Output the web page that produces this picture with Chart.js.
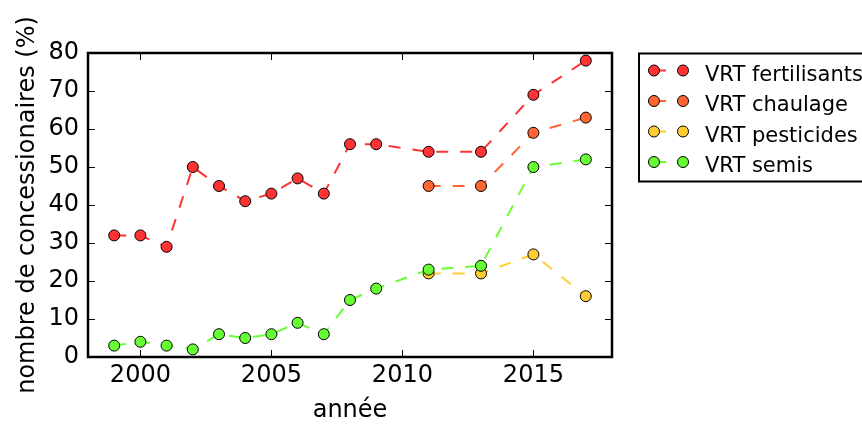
<!DOCTYPE html>
<html>
<head>
<meta charset="utf-8">
<script src="https://cdn.jsdelivr.net/npm/chart.js@4/dist/chart.umd.min.js"></script>
<style>
    body { margin: 0; background: #fff; }
</style>
</head>
<body>
<canvas id="chart" width="862" height="426"></canvas>
<script>
// -- Data --
const years = [1999, 2000, 2001, 2002, 2003, 2004, 2005, 2006, 2007, 2008, 2009, 2011, 2013, 2015, 2017];
const fertilisants = [32, 32, 29, 50, 45, 41, 43, 47, 43, 56, 56, 54, 54, 69, 78];
const semis = [3, 4, 3, 2, 6, 5, 6, 9, 6, 15, 18, 23, 24, 50, 52];
const recentYears = [2011, 2013, 2015, 2017];
const chaulage = [45, 45, 59, 63];
const pesticides = [22, 22, 27, 16];

const xTicks = [2000, 2005, 2010, 2015];
const yTicks = [0, 10, 20, 30, 40, 50, 60, 70, 80];

const colors = {
    fertilisants: '#ff3333',
    chaulage: '#ff6633',
    pesticides: '#ffcc33',
    semis: '#66ff33'
};

// Pairs x and y arrays into points
function toPoints(xs, ys) {
    return xs.map((x, i) => ({ x: x, y: ys[i] }));
}

function makeDataset(label, xs, ys, color, order) {
    return {
        label: label,
        data: toPoints(xs, ys),
        borderColor: color,
        backgroundColor: color,
        borderWidth: 2,
        borderDash: [12, 12],
        pointRadius: 5.5,
        pointBorderWidth: 1,
        pointBorderColor: '#000',
        pointBackgroundColor: color,
        tension: 0,
        order: order
    };
}

// Frame, inward ticks on all four sides, and a matplotlib style legend
const framePlugin = {
    id: 'frame',
    afterDraw(chart) {
        const ctx = chart.ctx;
        const a = chart.chartArea;
        const xs = chart.scales.x;
        const ys = chart.scales.y;
        ctx.save();
        ctx.strokeStyle = '#000';
        ctx.lineWidth = 1;
        ctx.beginPath();
        xTicks.forEach(v => {
            const px = Math.round(xs.getPixelForValue(v)) + 0.5;
            ctx.moveTo(px, a.bottom); ctx.lineTo(px, a.bottom - 7);
            ctx.moveTo(px, a.top); ctx.lineTo(px, a.top + 7);
        });
        yTicks.forEach(v => {
            const py = Math.round(ys.getPixelForValue(v)) + 0.5;
            ctx.moveTo(a.left, py); ctx.lineTo(a.left + 7, py);
            ctx.moveTo(a.right, py); ctx.lineTo(a.right - 7, py);
        });
        ctx.stroke();
        ctx.lineWidth = 2.5;
        ctx.strokeRect(a.left, a.top, a.right - a.left, a.bottom - a.top);

        // legend box
        const boxX = 639, boxY = 53.5, boxW = 240, boxH = 128;
        ctx.fillStyle = '#fff';
        ctx.fillRect(boxX, boxY, boxW, boxH);
        ctx.lineWidth = 2;
        ctx.strokeRect(boxX, boxY, boxW, boxH);
        const rows = [70.5, 101, 131.5, 162];
        const sets = chart.data.datasets;
        ctx.font = '21px "DejaVu Sans"';
        ctx.textBaseline = 'alphabetic';
        sets.forEach((ds, i) => {
            const y = rows[i];
            ctx.strokeStyle = ds.borderColor;
            ctx.lineWidth = 2;
            ctx.setLineDash([12, 12]);
            ctx.beginPath();
            ctx.moveTo(654, y); ctx.lineTo(683, y);
            ctx.stroke();
            ctx.setLineDash([]);
            [654, 683].forEach(cx => {
                ctx.beginPath();
                ctx.arc(cx, y, 5.5, 0, Math.PI * 2);
                ctx.fillStyle = ds.borderColor;
                ctx.fill();
                ctx.strokeStyle = '#000';
                ctx.lineWidth = 1;
                ctx.stroke();
            });
            ctx.fillStyle = '#000';
            ctx.fillText(ds.label, 705, y + 10);
        });
        ctx.restore();
    }
};

Chart.defaults.font.family = '"DejaVu Sans", sans-serif';
Chart.defaults.color = '#000';

new Chart(document.getElementById('chart').getContext('2d'), {
    type: 'line',
    data: {
        datasets: [
            makeDataset('VRT fertilisants', years, fertilisants, colors.fertilisants, 4),
            makeDataset('VRT chaulage', recentYears, chaulage, colors.chaulage, 3),
            makeDataset('VRT pesticides', recentYears, pesticides, colors.pesticides, 2),
            makeDataset('VRT semis', years, semis, colors.semis, 1)
        ]
    },
    options: {
        responsive: false,
        animation: false,
        layout: {
            padding: { top: 53, right: 250, left: 0, bottom: 0 }
        },
        scales: {
            x: {
                type: 'linear',
                min: 1998,
                max: 2018,
                grid: { display: false, drawTicks: false },
                border: { display: false },
                afterBuildTicks: scale => { scale.ticks = xTicks.map(v => ({ value: v })); },
                afterFit: scale => { scale.height = 69; },
                ticks: {
                    padding: 4,
                    maxRotation: 0,
                    font: { size: 24 },
                    callback: v => String(v)
                },
                title: {
                    display: true,
                    text: 'année',
                    font: { size: 24 },
                    padding: { top: 0, bottom: 1 }
                }
            },
            y: {
                type: 'linear',
                min: 0,
                max: 80,
                grid: { display: false, drawTicks: false },
                border: { display: false },
                afterBuildTicks: scale => { scale.ticks = yTicks.map(v => ({ value: v })); },
                afterFit: scale => { scale.width = 88; },
                ticks: {
                    padding: 9,
                    font: { size: 24 },
                    callback: v => String(v)
                },
                title: {
                    display: true,
                    text: 'nombre de concessionaires (%)',
                    font: { size: 24 },
                    padding: { top: 13, bottom: 0 }
                }
            }
        },
        plugins: {
            legend: { display: false },
            tooltip: { enabled: false }
        }
    },
    plugins: [framePlugin]
});
</script>
</body>
</html>
